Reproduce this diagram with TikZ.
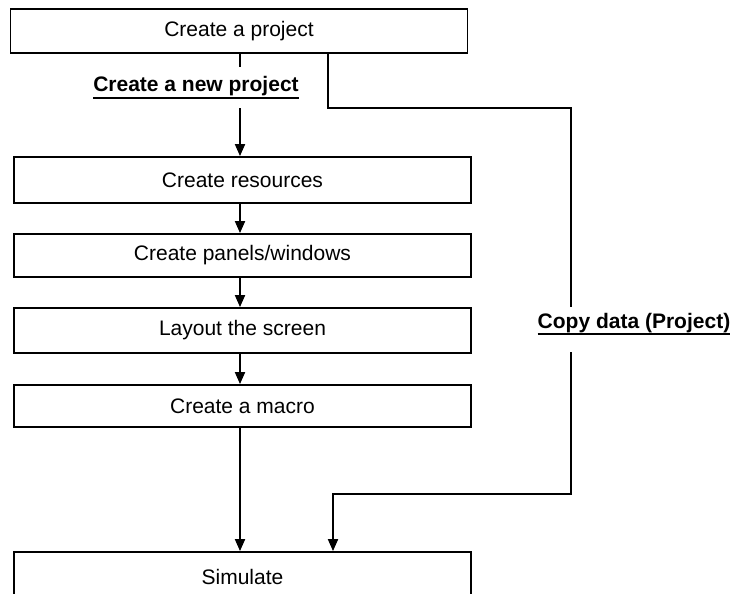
\documentclass[tikz,border=0pt]{standalone}
\usepackage{fontspec}
\setmainfont{Liberation Sans}
\usetikzlibrary{arrows.meta}
\begin{document}
\begin{tikzpicture}[x=1pt,y=-1pt,
 box/.style={draw, line width=1.8pt, minimum width=457pt, inner sep=0pt, font=\fontsize{21}{25}\selectfont},
 lab/.style={font=\fontsize{21}{25}\selectfont\bfseries, inner sep=0pt},
 uline/.style={line width=1.6pt},
 conn/.style={line width=1.8pt},
 arr/.style={line width=1.8pt, -{Triangle[length=12pt,width=10pt]}}]
\clip (0,0) rectangle (734,594);
\node[box, minimum height=44pt] (proj) at (239,31) {Create a project};
\node[box, minimum height=46pt] (res) at (242.5,180) {Create resources};
\node[box, minimum height=43pt] (pan) at (242.5,255.5) {Create panels/windows};
\node[box, minimum height=45pt] (lay) at (242.5,330.5) {Layout the screen};
\node[box, minimum height=42pt] (mac) at (242.5,406) {Create a macro};
\node[box, minimum height=50pt] (sim) at (242.5,577) {Simulate};
\node[lab, anchor=base] (newproj) at (196,92) {Create a new project};
\node[lab, anchor=base] (copy) at (634,328) {Copy data (Project)};
\draw[uline] ([yshift=-6pt]newproj.base west) -- ([yshift=-6pt]newproj.base east);
\draw[uline] ([yshift=-6pt]copy.base west) -- ([yshift=-6pt]copy.base east);
\coordinate (a1) at (240,67);
\coordinate (a2) at (240,108);
\draw[conn] (proj.south -| a1) -- (a1);
\draw[arr] (a2) -- (res.north -| a2);
\draw[arr] (res.south -| a2) -- (pan.north -| a2);
\draw[arr] (pan.south -| a2) -- (lay.north -| a2);
\draw[arr] (lay.south -| a2) -- (mac.north -| a2);
\draw[arr] (mac.south -| a2) -- (sim.north -| a2);
\coordinate (b1) at (328,108);
\coordinate (b2) at (571,108);
\coordinate (b3) at (571,307);
\draw[conn] (proj.south -| b1) -- (b1) -- (b2) -- (b3);
\coordinate (c0) at (571,352);
\coordinate (c1) at (571,494);
\coordinate (c2) at (333,494);
\draw[arr] (c0) -- (c1) -- (c2) -- (sim.north -| c2);
\end{tikzpicture}
\end{document}
